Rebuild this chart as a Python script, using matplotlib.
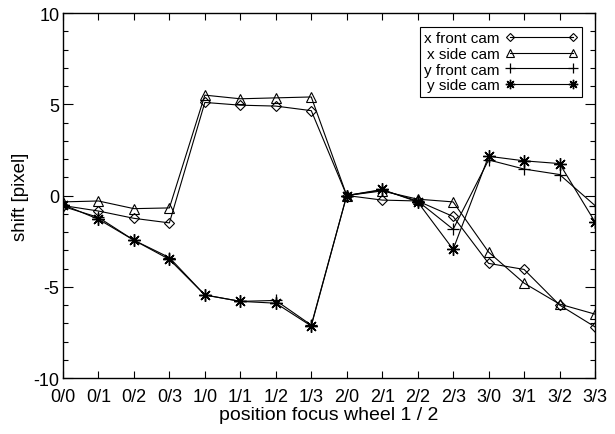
import matplotlib
matplotlib.use('Agg')
import matplotlib.pyplot as plt
from matplotlib.ticker import MultipleLocator

plt.rcParams['font.family'] = ['Liberation Sans', 'DejaVu Sans']
plt.rcParams['axes.unicode_minus'] = False

# positions of focus wheel 1 / 2
positions = ['0/0', '0/1', '0/2', '0/3', '1/0', '1/1', '1/2', '1/3',
             '2/0', '2/1', '2/2', '2/3', '3/0', '3/1', '3/2', '3/3']

x_front = [-0.55, -0.85, -1.25, -1.5, 5.1, 4.95, 4.9, 4.65,
           0.0, -0.25, -0.3, -1.15, -3.72, -4.05, -6.0, -7.2]
x_side = [-0.35, -0.3, -0.72, -0.68, 5.5, 5.3, 5.35, 5.4,
          0.0, 0.25, -0.2, -0.35, -3.1, -4.8, -5.95, -6.5]
y_front = [-0.6, -1.2, -2.45, -3.4, -5.45, -5.8, -5.75, -7.1,
           0.0, 0.3, -0.3, -1.85, 1.95, 1.45, 1.15, -0.55]
y_side = [-0.5, -1.3, -2.45, -3.5, -5.45, -5.8, -5.9, -7.15,
          0.0, 0.33, -0.35, -2.95, 2.15, 1.9, 1.75, -1.45]

fig = plt.figure(figsize=(6.15, 4.35), dpi=100)
ax = fig.add_axes([0.1024, 0.1287, 0.8651, 0.8391])

xs = list(range(len(positions)))
lw = 0.8
ax.plot(xs, x_front, color='black', lw=lw, marker='D', ms=5.2,
        mfc='none', mec='black', mew=0.8, label='x front cam')
ax.plot(xs, x_side, color='black', lw=lw, marker='^', ms=7.5,
        mfc='none', mec='black', mew=0.8, label='x side cam')
ax.plot(xs, y_front, color='black', lw=lw, marker='+', ms=9,
        mec='black', mew=0.9, label='y front cam')
ax.plot(xs, y_side, color='black', lw=lw, marker=(8, 2, 0), ms=9,
        mec='black', mew=1.0, label='y side cam')

ax.set_xlim(0, len(positions) - 1)
ax.set_ylim(-10, 10)
ax.set_xticks(xs)
ax.set_xticklabels(positions)
ax.yaxis.set_major_locator(MultipleLocator(5))
ax.yaxis.set_minor_locator(MultipleLocator(1))
ax.tick_params(axis='both', which='both', direction='in', top=True, right=True,
               labelsize=13, width=0.8)
ax.tick_params(axis='x', which='major', length=5, pad=7)
ax.tick_params(axis='y', which='major', length=7, pad=2.5)
ax.tick_params(axis='y', which='minor', length=3.5)
for s in ax.spines.values():
    s.set_linewidth(1.0)

ax.set_xlabel('position focus wheel 1 / 2', fontsize=14, labelpad=1)
ax.set_ylabel('shift [pixel]', fontsize=13.5, labelpad=3)

leg = ax.legend(loc='upper right', bbox_to_anchor=(0.976, 0.962), markerfirst=False,
                numpoints=2, handlelength=4.7, fontsize=11, frameon=True,
                fancybox=False, edgecolor='black', framealpha=1, markerscale=0.75,
                borderpad=0.3, labelspacing=0.1, handletextpad=0.4,
                borderaxespad=0)
leg.get_frame().set_linewidth(0.8)

fig.savefig('out.png', dpi=100)
